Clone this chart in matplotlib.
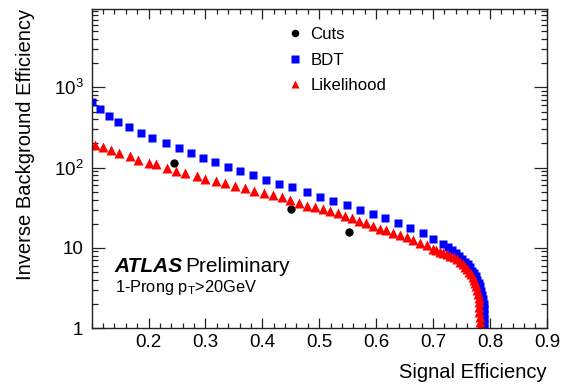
import matplotlib
matplotlib.use("Agg")
import math
import matplotlib.pyplot as plt
from matplotlib.ticker import FixedLocator, MultipleLocator, FuncFormatter, NullFormatter

plt.rcParams["font.family"] = ["Liberation Sans", "DejaVu Sans"]
plt.rcParams["mathtext.fontset"] = "custom"
plt.rcParams["mathtext.rm"] = "Liberation Sans"
plt.rcParams["mathtext.it"] = "Liberation Sans:italic"

# signal efficiency / inverse background efficiency
bdt_eff = [0.100, 0.115, 0.131, 0.147, 0.166, 0.186, 0.207, 0.230, 0.253, 0.274,
           0.295, 0.317, 0.339, 0.361, 0.384, 0.406, 0.430, 0.453, 0.478, 0.501,
           0.525, 0.548, 0.571, 0.594, 0.616, 0.638, 0.660, 0.682, 0.700, 0.718,
           0.726, 0.733, 0.740, 0.746, 0.751, 0.756, 0.761, 0.765, 0.769, 0.772,
           0.775, 0.778, 0.781, 0.783, 0.785, 0.7865, 0.788, 0.789, 0.7895, 0.790,
           0.790, 0.790, 0.790]
bdt_rej = [660, 537, 437, 372, 320, 272, 233, 200, 177, 153,
           132, 116, 102, 90, 81, 71, 63, 56.6, 49, 43.2,
           38.5, 34, 30, 26.5, 23.3, 20.1, 17.5, 15.4, 12.9, 11.1,
           10.2, 9.3, 8.6, 7.9, 7.3, 6.7, 6.2, 5.7, 5.2, 4.8,
           4.4, 4.0, 3.6, 3.3, 2.9, 2.6, 2.3, 2.0, 1.75, 1.5,
           1.3, 1.15, 1.0]

llh_eff = [0.106, 0.120, 0.134, 0.148, 0.167, 0.181, 0.200, 0.213, 0.232, 0.249,
           0.265, 0.285, 0.300, 0.318, 0.334, 0.352, 0.369, 0.385, 0.403, 0.419,
           0.434, 0.449, 0.465, 0.478, 0.492, 0.506, 0.519, 0.533, 0.545, 0.557,
           0.570, 0.582, 0.595, 0.607, 0.618, 0.630, 0.642, 0.654, 0.665, 0.677,
           0.689, 0.700, 0.706, 0.712, 0.718, 0.724, 0.730, 0.736, 0.742, 0.748,
           0.752, 0.756, 0.760, 0.764, 0.767, 0.770, 0.772, 0.774, 0.776, 0.778,
           0.779, 0.780, 0.7805, 0.781, 0.7815, 0.782, 0.782, 0.782]
llh_rej = [191, 180, 165, 153, 139, 126, 115, 110, 100, 91,
           85, 79, 73, 68, 63.5, 58.9, 55, 51.3, 48.5, 45,
           42.5, 40, 36.5, 33.2, 31.9, 30.2, 28.9, 27, 24.9, 23.3,
           21.7, 20.1, 18.8, 17.4, 16.6, 15.4, 14.4, 13.5, 12.5, 11.5,
           10.8, 9.8, 9.35, 8.9, 8.6, 8.3, 7.95, 7.6, 7.15, 6.7,
           6.25, 5.8, 5.4, 5.0, 4.65, 4.3, 3.95, 3.6, 3.3, 2.95,
           2.65, 2.34, 2.1, 1.84, 1.6, 1.38, 1.2, 1.02]

cuts_eff = [0.245, 0.450, 0.553]
cuts_rej = [115, 30.6, 15.6]

fig = plt.figure(figsize=(5.62, 3.88), dpi=100)
ax = fig.add_axes([0.163, 0.1546, 0.810, 0.8214])

ax.plot(cuts_eff, cuts_rej, "o", color="black", ms=6, mec="none", label="Cuts")
ax.plot(bdt_eff, bdt_rej, "s", color="blue", ms=6.2, mec="none", label="BDT")
ax.plot(llh_eff, llh_rej, "^", color="red", ms=6.8, mec="none", label="Likelihood")

ax.set_xlim(0.1, 0.9)
ax.set_yscale("log")
ax.set_ylim(1, 9400)

ax.xaxis.set_major_locator(FixedLocator([0.2, 0.3, 0.4, 0.5, 0.6, 0.7, 0.8, 0.9]))
ax.xaxis.set_minor_locator(MultipleLocator(0.02))
ax.xaxis.set_major_formatter(FuncFormatter(lambda v, p: f"{v:.1f}"))


def ylab(v, p):
    if v < 5:
        return "1"
    if v < 50:
        return "10"
    return r"$10^{%d}$" % int(round(math.log10(v)))


ax.yaxis.set_major_formatter(FuncFormatter(ylab))
ax.yaxis.set_minor_formatter(NullFormatter())

ax.tick_params(which="both", direction="in", top=True, right=True, labelsize=13.5, colors="#222222")
ax.tick_params(axis="x", which="major", length=7.2, width=0.9, pad=4)
ax.tick_params(axis="x", which="minor", length=3.6, width=0.9)
ax.tick_params(axis="y", which="major", length=9.2, width=0.9, pad=6)
ax.tick_params(axis="y", which="minor", length=4.5, width=0.9)
ax.tick_params(labelcolor="black")
for s in ax.spines.values():
    s.set_linewidth(1.0)
    s.set_color("#222222")

ax.set_xlabel("Signal Efficiency", fontsize=14.5, loc="right", labelpad=9)
ax.set_ylabel("Inverse Background Efficiency", fontsize=14.5, loc="top", labelpad=13)

ax.legend(loc="upper left", bbox_to_anchor=(0.410, 0.970), frameon=False, fontsize=12.1,
          borderpad=0, handlelength=1.0, handletextpad=0.4, labelspacing=0.62,
          markerscale=0.9)

ax.text(0.051, 0.176, "ATLAS", transform=ax.transAxes, fontsize=15, fontweight="bold",
        fontstyle="italic", va="baseline")
ax.text(0.205, 0.176, "Preliminary", transform=ax.transAxes, fontsize=15, va="baseline")
ax.text(0.051, 0.114, r"1-Prong p$_\mathregular{T}$>20GeV", transform=ax.transAxes,
        fontsize=11.8, va="baseline")

fig.savefig("out.png", dpi=100)
